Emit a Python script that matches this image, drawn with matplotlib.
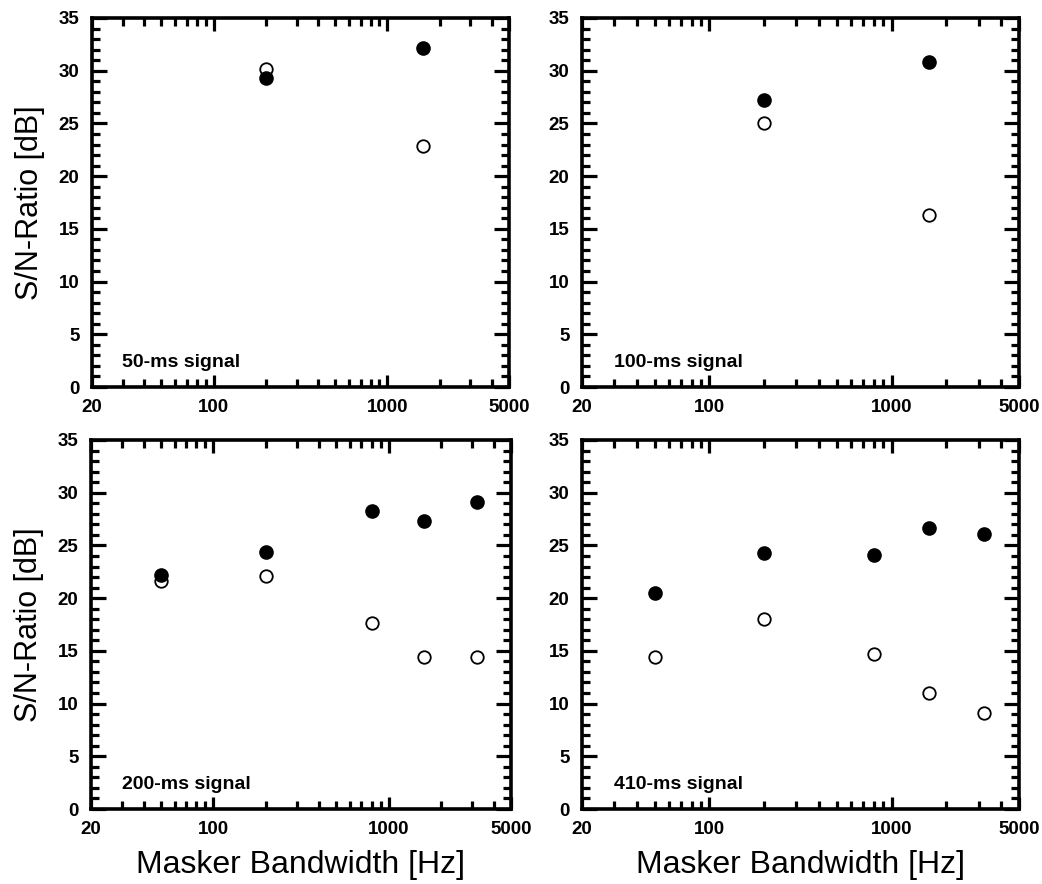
import matplotlib
matplotlib.use("Agg")
import matplotlib.pyplot as plt
from matplotlib.ticker import FixedLocator, FixedFormatter, NullFormatter

plt.rcParams['font.family'] = ['Liberation Sans', 'DejaVu Sans']

# ---- data ----
bw_short = [200, 1600]
sig50_filled = [29.3, 32.2]
sig50_open = [30.2, 22.9]
sig100_filled = [27.2, 30.8]
sig100_open = [25.0, 16.3]

bw_long = [50, 200, 800, 1600, 3200]
sig200_filled = [22.2, 24.35, 28.3, 27.3, 29.1]
sig200_open = [21.6, 22.1, 17.6, 14.4, 14.4]
sig410_filled = [20.5, 24.3, 24.1, 26.7, 26.1]
sig410_open = [14.4, 18.0, 14.7, 11.0, 9.1]

panel_labels = ["50-ms signal", "100-ms signal", "200-ms signal", "410-ms signal"]
xtick_vals = [20, 100, 1000, 5000]
xtick_labels = ["20", "100", "1000", "5000"]
ytick_vals = [0, 5, 10, 15, 20, 25, 30, 35]
ylabel = "S/N-Ratio [dB]"
xlabel = "Masker Bandwidth [Hz]"

W, H = 1042, 884
fig = plt.figure(figsize=(W / 100, H / 100), dpi=100)

def px_axes(left, right, top, bottom):
    return fig.add_axes([left / W, (H - bottom) / H, (right - left) / W, (bottom - top) / H])

axes = [
    px_axes(92, 509, 18, 387),
    px_axes(582, 1019, 18, 387),
    px_axes(91, 511, 440, 809),
    px_axes(582, 1019, 440, 809),
]

series = [
    (bw_short, sig50_filled, sig50_open),
    (bw_short, sig100_filled, sig100_open),
    (bw_long, sig200_filled, sig200_open),
    (bw_long, sig410_filled, sig410_open),
]

minor_x = [30, 40, 50, 60, 70, 80, 90, 200, 300, 400, 500, 600, 700, 800, 900,
           2000, 3000, 4000]
minor_y = [v for v in range(0, 36) if v % 5 != 0]

for i, (ax, (bw, filled, opn), lab) in enumerate(zip(axes, series, panel_labels)):
    ax.set_xscale('log')
    ax.plot(bw, opn, linestyle='none', marker='o', markersize=9,
            markerfacecolor='white', markeredgecolor='black', markeredgewidth=1.3,
            zorder=3, clip_on=False)
    ax.plot(bw, filled, linestyle='none', marker='o', markersize=9.5,
            markerfacecolor='black', markeredgecolor='black', zorder=4, clip_on=False)
    ax.set_xlim(20, 5000)
    ax.set_ylim(0, 35)
    ax.xaxis.set_major_locator(FixedLocator(xtick_vals))
    ax.xaxis.set_major_formatter(FixedFormatter(xtick_labels))
    ax.xaxis.set_minor_locator(FixedLocator(minor_x))
    ax.xaxis.set_minor_formatter(NullFormatter())
    ax.yaxis.set_major_locator(FixedLocator(ytick_vals))
    ax.yaxis.set_minor_locator(FixedLocator(minor_y))
    ax.tick_params(which='both', direction='in', top=True, right=True, width=2.3)
    ax.tick_params(axis='x', which='major', length=9, pad=9)
    ax.tick_params(axis='x', which='minor', length=5.5)
    ax.tick_params(axis='y', which='major', length=11, pad=9)
    ax.tick_params(axis='y', which='minor', length=6)
    for t in ax.get_xticklabels() + ax.get_yticklabels():
        t.set_fontweight('bold')
        t.set_fontsize(13.5)
    for s in ax.spines.values():
        s.set_linewidth(2.6)
    ax.text(0.073, 0.054, lab, transform=ax.transAxes, fontsize=14,
            fontweight='bold', ha='left', va='baseline')
    if i % 2 == 0:
        ax.set_ylabel(ylabel, fontsize=22, labelpad=10)
    if i >= 2:
        ax.set_xlabel(xlabel, fontsize=23, labelpad=8)

fig.savefig("out.png", dpi=100)
